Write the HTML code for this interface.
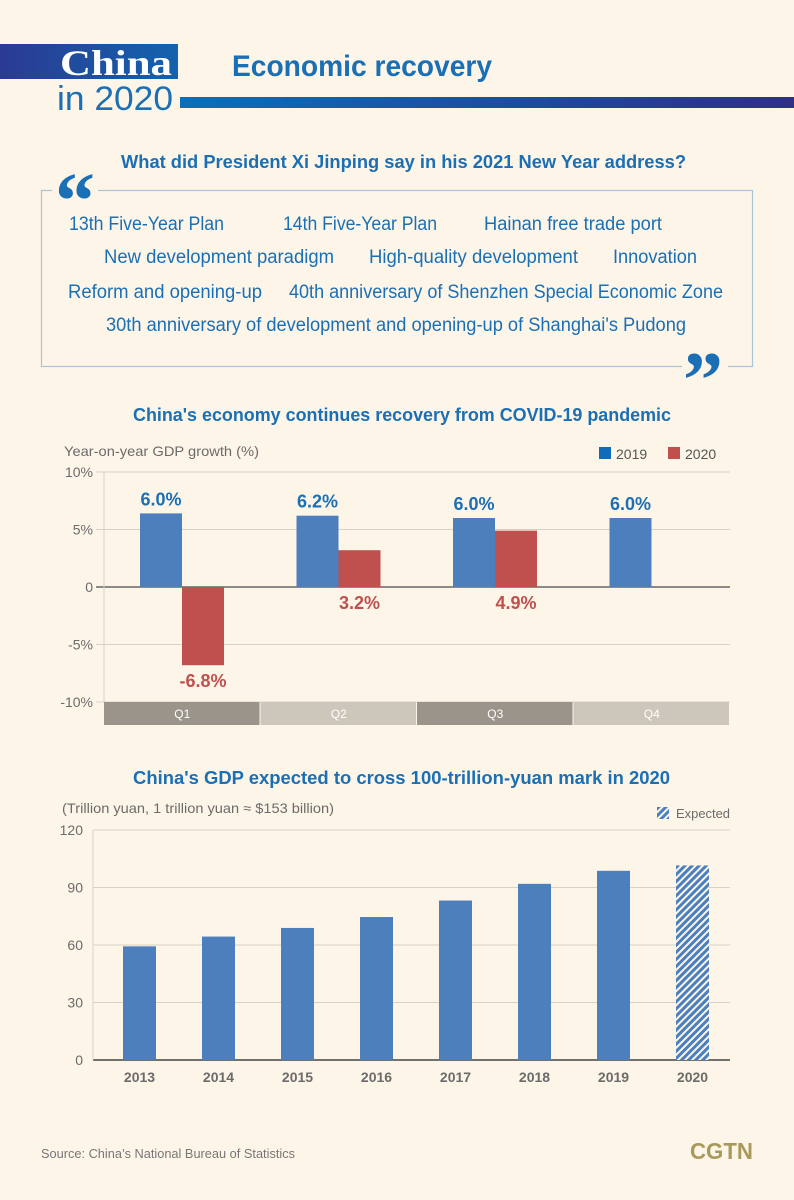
<!DOCTYPE html>
<html><head><meta charset="utf-8"><style>
html,body{margin:0;padding:0;background:#fdf5e8;}
svg{display:block;font-family:"Liberation Sans",sans-serif;}
</style></head><body>
<svg id="root" width="794" height="1200" viewBox="0 0 794 1200" xmlns="http://www.w3.org/2000/svg">
<defs>
<linearGradient id="lg" x1="0" x2="1"><stop offset="0" stop-color="#0a6fb8"/><stop offset="1" stop-color="#2e2f85"/></linearGradient>
<linearGradient id="lg2" x1="0" x2="1"><stop offset="0" stop-color="#2b3a92"/><stop offset="1" stop-color="#1363ad"/></linearGradient>
<pattern id="hatch" width="5" height="5" patternUnits="userSpaceOnUse" patternTransform="rotate(45)"><rect width="5" height="5" fill="#fdf5e8"/><rect width="3" height="5" fill="#4a7fc0"/></pattern>
</defs>
<rect width="794" height="1200" fill="#fdf5e8"/>
<g>
<rect x="0" y="44" width="178" height="35" fill="url(#lg2)"/>
<text x="60" y="75" font-family="Liberation Serif,serif" font-weight="bold" font-size="36" fill="#fff" textLength="112" lengthAdjust="spacingAndGlyphs">China</text>
<text x="57" y="110" font-size="34" fill="#1a6fb5" textLength="116" lengthAdjust="spacingAndGlyphs">in 2020</text>
<rect x="180" y="97" width="614" height="11" fill="url(#lg)"/>
<text x="232" y="76" font-weight="bold" font-size="30" fill="#1a6fb5" textLength="260" lengthAdjust="spacingAndGlyphs">Economic recovery</text>
</g>
<g>
<text x="121" y="168" font-weight="bold" font-size="18" fill="#1a6fb5" textLength="565" lengthAdjust="spacingAndGlyphs">What did President Xi Jinping say in his 2021 New Year address?</text>
<rect x="41.5" y="190.5" width="711" height="176" fill="none" stroke="#a8c4d8" stroke-width="1.2"/>
<rect x="52" y="180" width="46" height="22" fill="#fdf5e8"/>
<text x="55" y="228" font-family="Liberation Serif,serif" font-weight="bold" font-size="80" fill="#1a6fb5">“</text>
<rect x="682" y="355" width="46" height="22" fill="#fdf5e8"/>
<text x="683" y="407" font-family="Liberation Serif,serif" font-weight="bold" font-size="80" fill="#1a6fb5">”</text>
<g font-size="19" fill="#1a6fb5">
<text x="69" y="230" textLength="155" lengthAdjust="spacingAndGlyphs">13th Five-Year Plan</text>
<text x="283" y="230" textLength="154" lengthAdjust="spacingAndGlyphs">14th Five-Year Plan</text>
<text x="484" y="230" textLength="178" lengthAdjust="spacingAndGlyphs">Hainan free trade port</text>
<text x="104" y="263" textLength="230" lengthAdjust="spacingAndGlyphs">New development paradigm</text>
<text x="369" y="263" textLength="209" lengthAdjust="spacingAndGlyphs">High-quality development</text>
<text x="613" y="263" textLength="84" lengthAdjust="spacingAndGlyphs">Innovation</text>
<text x="68" y="298" textLength="194" lengthAdjust="spacingAndGlyphs">Reform and opening-up</text>
<text x="289" y="298" textLength="434" lengthAdjust="spacingAndGlyphs">40th anniversary of Shenzhen Special Economic Zone</text>
<text x="106" y="331" textLength="580" lengthAdjust="spacingAndGlyphs">30th anniversary of development and opening-up of Shanghai's Pudong</text>
</g>
</g>
<g id="c1">
<text x="133" y="421" font-weight="bold" font-size="18" fill="#1a6fb5" textLength="538" lengthAdjust="spacingAndGlyphs">China's economy continues recovery from COVID-19 pandemic</text>
<text x="64" y="456" font-size="14" fill="#6b6b6b" textLength="195" lengthAdjust="spacingAndGlyphs">Year-on-year GDP growth (%)</text>
<rect x="599" y="447" width="12" height="12" fill="#0f6cbd"/>
<text x="616" y="459" font-size="14" fill="#555">2019</text>
<rect x="668" y="447" width="12" height="12" fill="#c0504d"/>
<text x="685" y="459" font-size="14" fill="#555">2020</text>
</g>
<g id="c2">
<text x="133" y="784" font-weight="bold" font-size="18" fill="#1a6fb5" textLength="537" lengthAdjust="spacingAndGlyphs">China's GDP expected to cross 100-trillion-yuan mark in 2020</text>
<text x="62" y="813" font-size="14" fill="#6b6b6b" textLength="272" lengthAdjust="spacingAndGlyphs">(Trillion yuan, 1 trillion yuan ≈ $153 billion)</text>
<rect x="657" y="807" width="12" height="12" fill="url(#hatch)"/>
<text x="676" y="818" font-size="13" fill="#6b6b6b" textLength="54" lengthAdjust="spacingAndGlyphs">Expected</text>
</g>
<text x="41" y="1158" font-size="13" fill="#777" textLength="254" lengthAdjust="spacingAndGlyphs">Source: China’s National Bureau of Statistics</text>
<text x="690" y="1159" font-weight="bold" font-size="23" fill="#a89a5c" textLength="63" lengthAdjust="spacingAndGlyphs">CGTN</text>
</svg>
<script>
const quarters = ["Q1","Q2","Q3","Q4"];
const growth2019 = [6.4, 6.2, 6.0, 6.0];
const labels2019 = ["6.0%","6.2%","6.0%","6.0%"];
const growth2020 = [-6.8, 3.2, 4.9, null];
const labels2020 = ["-6.8%","3.2%","4.9%",""];
const growthTicks = [10, 5, 0, -5, -10];
const growthTickLabels = ["10%","5%","0","-5%","-10%"];
const years = ["2013","2014","2015","2016","2017","2018","2019","2020"];
const gdpValues = [59.3, 64.4, 68.9, 74.6, 83.2, 91.9, 98.7, 101.5];
const gdpExpected = [false,false,false,false,false,false,false,true];
const gdpTicks = [0, 30, 60, 90, 120];

const NS = "http://www.w3.org/2000/svg";
function mk(parent, tag, attrs, text){
  const e = document.createElementNS(NS, tag);
  for (const k in attrs) e.setAttribute(k, attrs[k]);
  if (text !== undefined) e.textContent = text;
  parent.appendChild(e);
  return e;
}
const c1 = document.getElementById('c1');
const y1 = v => 587 - v * 11.5;
const gx0 = 104, gw = 156.5, bw = 42;
growthTicks.forEach((t, i) => {
  const gl = mk(c1, 'line', {x1: 96, x2: 730, y1: y1(t), y2: y1(t), stroke: t === 0 ? '#666' : '#d8d2c6', 'stroke-width': t === 0 ? 1.5 : 1});
  
  
  const tl = mk(c1, 'text', {x: 93, y: y1(t) + 5, 'text-anchor': 'end', 'font-size': 14, fill: '#6b6b6b'}, growthTickLabels[i]);
  
  
});
mk(c1, 'line', {x1: 104, x2: 104, y1: y1(10), y2: y1(-10), stroke: '#d8d2c6'});
quarters.forEach((q, i) => {
  const bx = gx0 + i * gw;
  const band = mk(c1, 'rect', {x: bx, y: 702, width: gw - 1, height: 23, fill: i % 2 === 0 ? '#9a948b' : '#cdc6bb'});
  
  
  const ql = mk(c1, 'text', {x: bx + gw / 2, y: 718, 'text-anchor': 'middle', 'font-size': 12, fill: '#fff'}, q);
  
  
  const v1 = growth2019[i];
  const b1 = mk(c1, 'rect', {x: bx + 36, y: Math.min(y1(v1), y1(0)), width: bw, height: Math.abs(y1(v1) - y1(0)), fill: '#4e7fbd'});
  
  
  const l1 = mk(c1, 'text', {x: bx + 36 + bw / 2, y: y1(Math.max(v1, 0)) - 8, 'text-anchor': 'middle', 'font-size': 18, 'font-weight': 'bold', fill: '#1a6fb5'}, labels2019[i]);
  
  
  const v2 = growth2020[i];
  if (v2 !== null) {
    const b2 = mk(c1, 'rect', {x: bx + 36 + bw, y: Math.min(y1(v2), y1(0)), width: bw, height: Math.abs(y1(v2) - y1(0)), fill: '#c0504d'});
    
    
    const l2 = mk(c1, 'text', {x: bx + 36 + bw * 1.5, y: y1(Math.min(v2, 0)) + 22, 'text-anchor': 'middle', 'font-size': 18, 'font-weight': 'bold', fill: '#c0504d'}, labels2020[i]);
    
    
  }
});
const c2 = document.getElementById('c2');
const y2 = v => 1060 - v * (230 / 120);
gdpTicks.forEach(t => {
  const gl = mk(c2, 'line', {x1: 93, x2: 730, y1: y2(t), y2: y2(t), stroke: t === 0 ? '#444' : '#d8d2c6', 'stroke-width': t === 0 ? 1.5 : 1});
  
  
  const tl = mk(c2, 'text', {x: 83, y: y2(t) + 5, 'text-anchor': 'end', 'font-size': 14, fill: '#6b6b6b'}, String(t));
  
  
});
mk(c2, 'line', {x1: 93, x2: 93, y1: y2(120), y2: y2(0), stroke: '#d8d2c6'});
years.forEach((yr, i) => {
  const cx = 139.5 + i * 79;
  const b = mk(c2, 'rect', {x: cx - 16.5, y: y2(gdpValues[i]), width: 33, height: y2(0) - y2(gdpValues[i]), fill: gdpExpected[i] ? 'url(#hatch)' : '#4e7fbd'});
  
  
  const t = mk(c2, 'text', {x: cx, y: 1082, 'text-anchor': 'middle', 'font-size': 14, 'font-weight': 'bold', fill: '#6b6b6b'}, yr);
  
  
});
</script>
</body></html>
